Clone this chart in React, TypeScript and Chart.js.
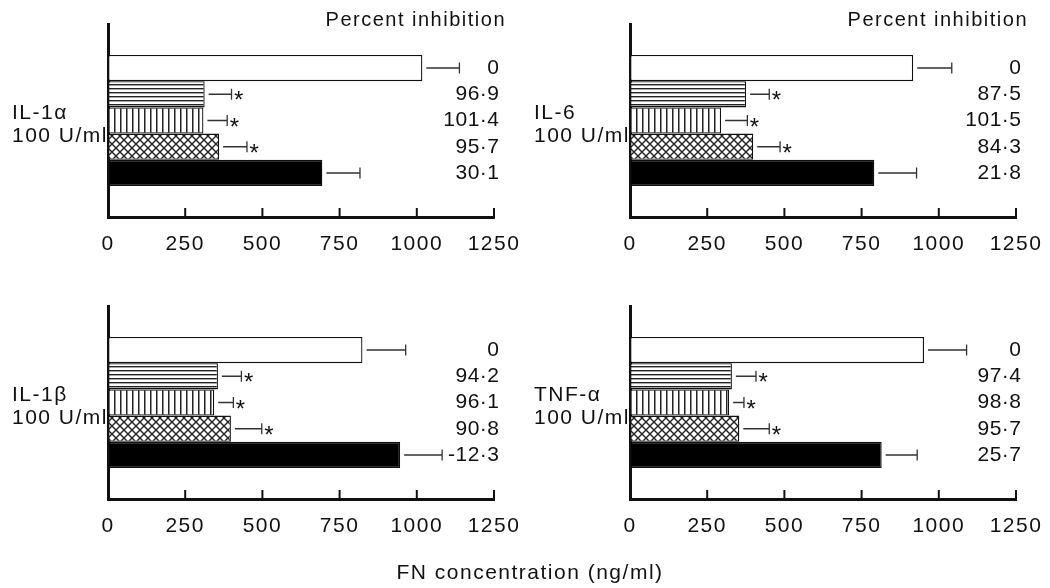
import React, { useEffect, useRef } from 'react';
import { Chart, registerables } from 'chart.js';

Chart.register(...registerables);

const FONT = "'Liberation Sans', Arial, Helvetica, sans-serif";
const TEXT = '#111111';

// Tick values of the FN concentration axis
const xTicks = [0, 250, 500, 750, 1000, 1250];
// Five treatment groups (bar order top to bottom)
const groups = ['Cytokine alone', 'Treatment A', 'Treatment B', 'Treatment C', 'Treatment D'];
const significant = [false, true, true, true, false];

// IL-1α panel
const il1aLabel = ['IL-1α', '100 U/ml'];
const il1aFN = [1018, 313, 309, 360, 694];
const il1aSD = [120, 87, 77, 90, 122];
const il1aInhibition = ['0', '96·9', '101·4', '95·7', '30·1'];

// IL-6 panel
const il6Label = ['IL-6', '100 U/ml'];
const il6FN = [917, 376, 295, 399, 791];
const il6SD = [125, 75, 85, 87, 137];
const il6Inhibition = ['0', '87·5', '101·5', '84·3', '21·8'];

// IL-1β panel
const il1bLabel = ['IL-1β', '100 U/ml'];
const il1bFN = [824, 356, 344, 398, 946];
const il1bSD = [140, 76, 62, 100, 136];
const il1bInhibition = ['0', '94·2', '96·1', '90·8', '-12·3'];

// TNF-α panel
const tnfLabel = ['TNF-α', '100 U/ml'];
const tnfFN = [952, 330, 321, 354, 815];
const tnfSD = [138, 78, 48, 97, 115];
const tnfInhibition = ['0', '97·4', '98·8', '95·7', '25·7'];

const headerText = 'Percent inhibition';
const axisTitle = 'FN concentration (ng/ml)';

function makeTile(w: number, h: number, draw: (c: CanvasRenderingContext2D) => void) {
  const c = document.createElement('canvas');
  c.width = w;
  c.height = h;
  const g = c.getContext('2d')!;
  g.fillStyle = '#ffffff';
  g.fillRect(0, 0, w, h);
  draw(g);
  return c;
}

function makeFills(ctx: CanvasRenderingContext2D): (string | CanvasPattern)[] {
  const horiz = makeTile(8, 4, (g) => {
    g.fillStyle = '#222';
    g.fillRect(0, 0, 8, 1.4);
  });
  const vert = makeTile(6, 8, (g) => {
    g.fillStyle = '#222';
    g.fillRect(0, 0, 1.5, 8);
  });
  const cross = makeTile(8, 8, (g) => {
    g.strokeStyle = '#222';
    g.lineWidth = 1.4;
    g.beginPath();
    g.moveTo(-1, -1);
    g.lineTo(9, 9);
    g.moveTo(9, -1);
    g.lineTo(-1, 9);
    g.stroke();
  });
  return [
    '#ffffff',
    ctx.createPattern(horiz, 'repeat')!,
    ctx.createPattern(vert, 'repeat')!,
    ctx.createPattern(cross, 'repeat')!,
    '#000000',
  ];
}

type PanelProps = {
  label: string[];
  values: number[];
  sd: number[];
  inhibition: string[];
  header: boolean;
  left: number;
  top: number;
  width: number;
};

function Panel({ label, values, sd, inhibition, header, left, top, width }: PanelProps) {
  const ref = useRef<HTMLCanvasElement>(null);
  useEffect(() => {
    const canvas = ref.current!;
    const ctx = canvas.getContext('2d')!;
    const fills = makeFills(ctx);

    const decor = {
      id: 'decor',
      beforeLayout(chart: any) {
        chart.ctx.letterSpacing = '1.5px';
      },
      beforeDraw(chart: any) {
        chart.ctx.letterSpacing = '1.5px';
      },
      afterDatasetsDraw(chart: any) {
        const c = chart.ctx as CanvasRenderingContext2D;
        const xs = chart.scales.x;
        const area = chart.chartArea;
        c.save();
        // inward tick marks
        c.strokeStyle = '#111';
        c.lineWidth = 2;
        xTicks.forEach((v) => {
          if (v === 0) return;
          const px = xs.getPixelForValue(v);
          c.beginPath();
          c.moveTo(px, area.bottom);
          c.lineTo(px, area.bottom - 9);
          c.stroke();
        });
        values.forEach((v, i) => {
          const bar = chart.getDatasetMeta(i).data[0];
          const y = bar.y;
          const x0 = bar.x + 4;
          const x1 = xs.getPixelForValue(v + sd[i]);
          c.strokeStyle = '#333';
          c.lineWidth = 1.3;
          c.beginPath();
          c.moveTo(x0, y);
          c.lineTo(x1, y);
          c.moveTo(x1, y - 5.5);
          c.lineTo(x1, y + 5.5);
          c.stroke();
          c.fillStyle = TEXT;
          if (significant[i]) {
            c.font = `24px ${FONT}`;
            c.letterSpacing = '0px';
            c.textAlign = 'left';
            c.textBaseline = 'alphabetic';
            c.fillText('*', x1 + 2.5, y + 14);
          }
          c.font = `21px ${FONT}`;
          c.letterSpacing = '0.5px';
          c.textAlign = 'right';
          c.textBaseline = 'middle';
          c.fillText(inhibition[i], area.right + 5.5, y);
        });
        if (header) {
          c.letterSpacing = '1.5px';
          c.fillStyle = TEXT;
          c.font = `20px ${FONT}`;
          c.textAlign = 'right';
          c.textBaseline = 'alphabetic';
          c.fillText(headerText, area.right + 12, 26);
        }
        c.restore();
      },
    };

    const chart = new Chart(canvas, {
      type: 'bar',
      data: {
        labels: [label],
        datasets: values.map((v, i) => ({
          label: groups[i],
          data: [v],
          backgroundColor: fills[i],
          borderColor: '#111',
          borderWidth: 1.3,
          borderSkipped: false,
          categoryPercentage: 0.68,
          barPercentage: 1,
        })),
      } as any,
      options: {
        indexAxis: 'y',
        responsive: false,
        animation: false,
        events: [],
        layout: { padding: { top: 24, left: 12, right: width - 494, bottom: 0 } },
        plugins: {
          legend: { display: false },
          tooltip: { enabled: false },
          title: { display: false },
        },
        scales: {
          x: {
            type: 'linear',
            min: 0,
            max: 1250,
            afterBuildTicks: (s: any) => {
              s.ticks = xTicks.map((v) => ({ value: v }));
            },
            afterFit: (s: any) => {
              s.height = 65;
              s.paddingLeft = 0;
              s.paddingRight = 0;
            },
            grid: { display: false, drawTicks: false },
            border: { display: true, color: '#111', width: 3 },
            ticks: {
              font: { family: FONT, size: 21 },
              color: TEXT,
              padding: 15,
              maxRotation: 0,
              autoSkip: false,
              callback: (v: any) => String(v),
            },
          },
          y: {
            type: 'category',
            afterFit: (s: any) => {
              s.width = 96;
              s.paddingTop = 0;
              s.paddingBottom = 0;
            },
            grid: { display: false, drawTicks: false },
            border: { display: true, color: '#111', width: 3 },
            ticks: {
              crossAlign: 'far',
              padding: 0,
              labelOffset: 4,
              font: { family: FONT, size: 21, lineHeight: 1.1 },
              color: TEXT,
            },
          },
        },
      } as any,
      plugins: [decor],
    });
    return () => chart.destroy();
  }, []);
  return (
    <canvas
      ref={ref}
      width={width}
      height={282}
      style={{ position: 'absolute', left, top, width, height: 282 }}
    />
  );
}

export default function App() {
  return (
    <div
      style={{
        position: 'absolute',
        left: 0,
        top: 0,
        width: 1050,
        height: 588,
        background: '#ffffff',
        overflow: 'hidden',
      }}
    >
      <Panel label={il1aLabel} values={il1aFN} sd={il1aSD} inhibition={il1aInhibition} header left={0} top={0} width={527} />
      <Panel label={il6Label} values={il6FN} sd={il6SD} inhibition={il6Inhibition} header left={522} top={0} width={528} />
      <Panel label={il1bLabel} values={il1bFN} sd={il1bSD} inhibition={il1bInhibition} header={false} left={0} top={282} width={527} />
      <Panel label={tnfLabel} values={tnfFN} sd={tnfSD} inhibition={tnfInhibition} header={false} left={522} top={282} width={528} />
      <div
        style={{
          position: 'absolute',
          left: 530,
          top: 561,
          transform: 'translateX(-50%)',
          whiteSpace: 'nowrap',
          font: `21px ${FONT}`,
          lineHeight: '21px',
          letterSpacing: '1.5px',
          color: TEXT,
        }}
      >
        {axisTitle}
      </div>
    </div>
  );
}
